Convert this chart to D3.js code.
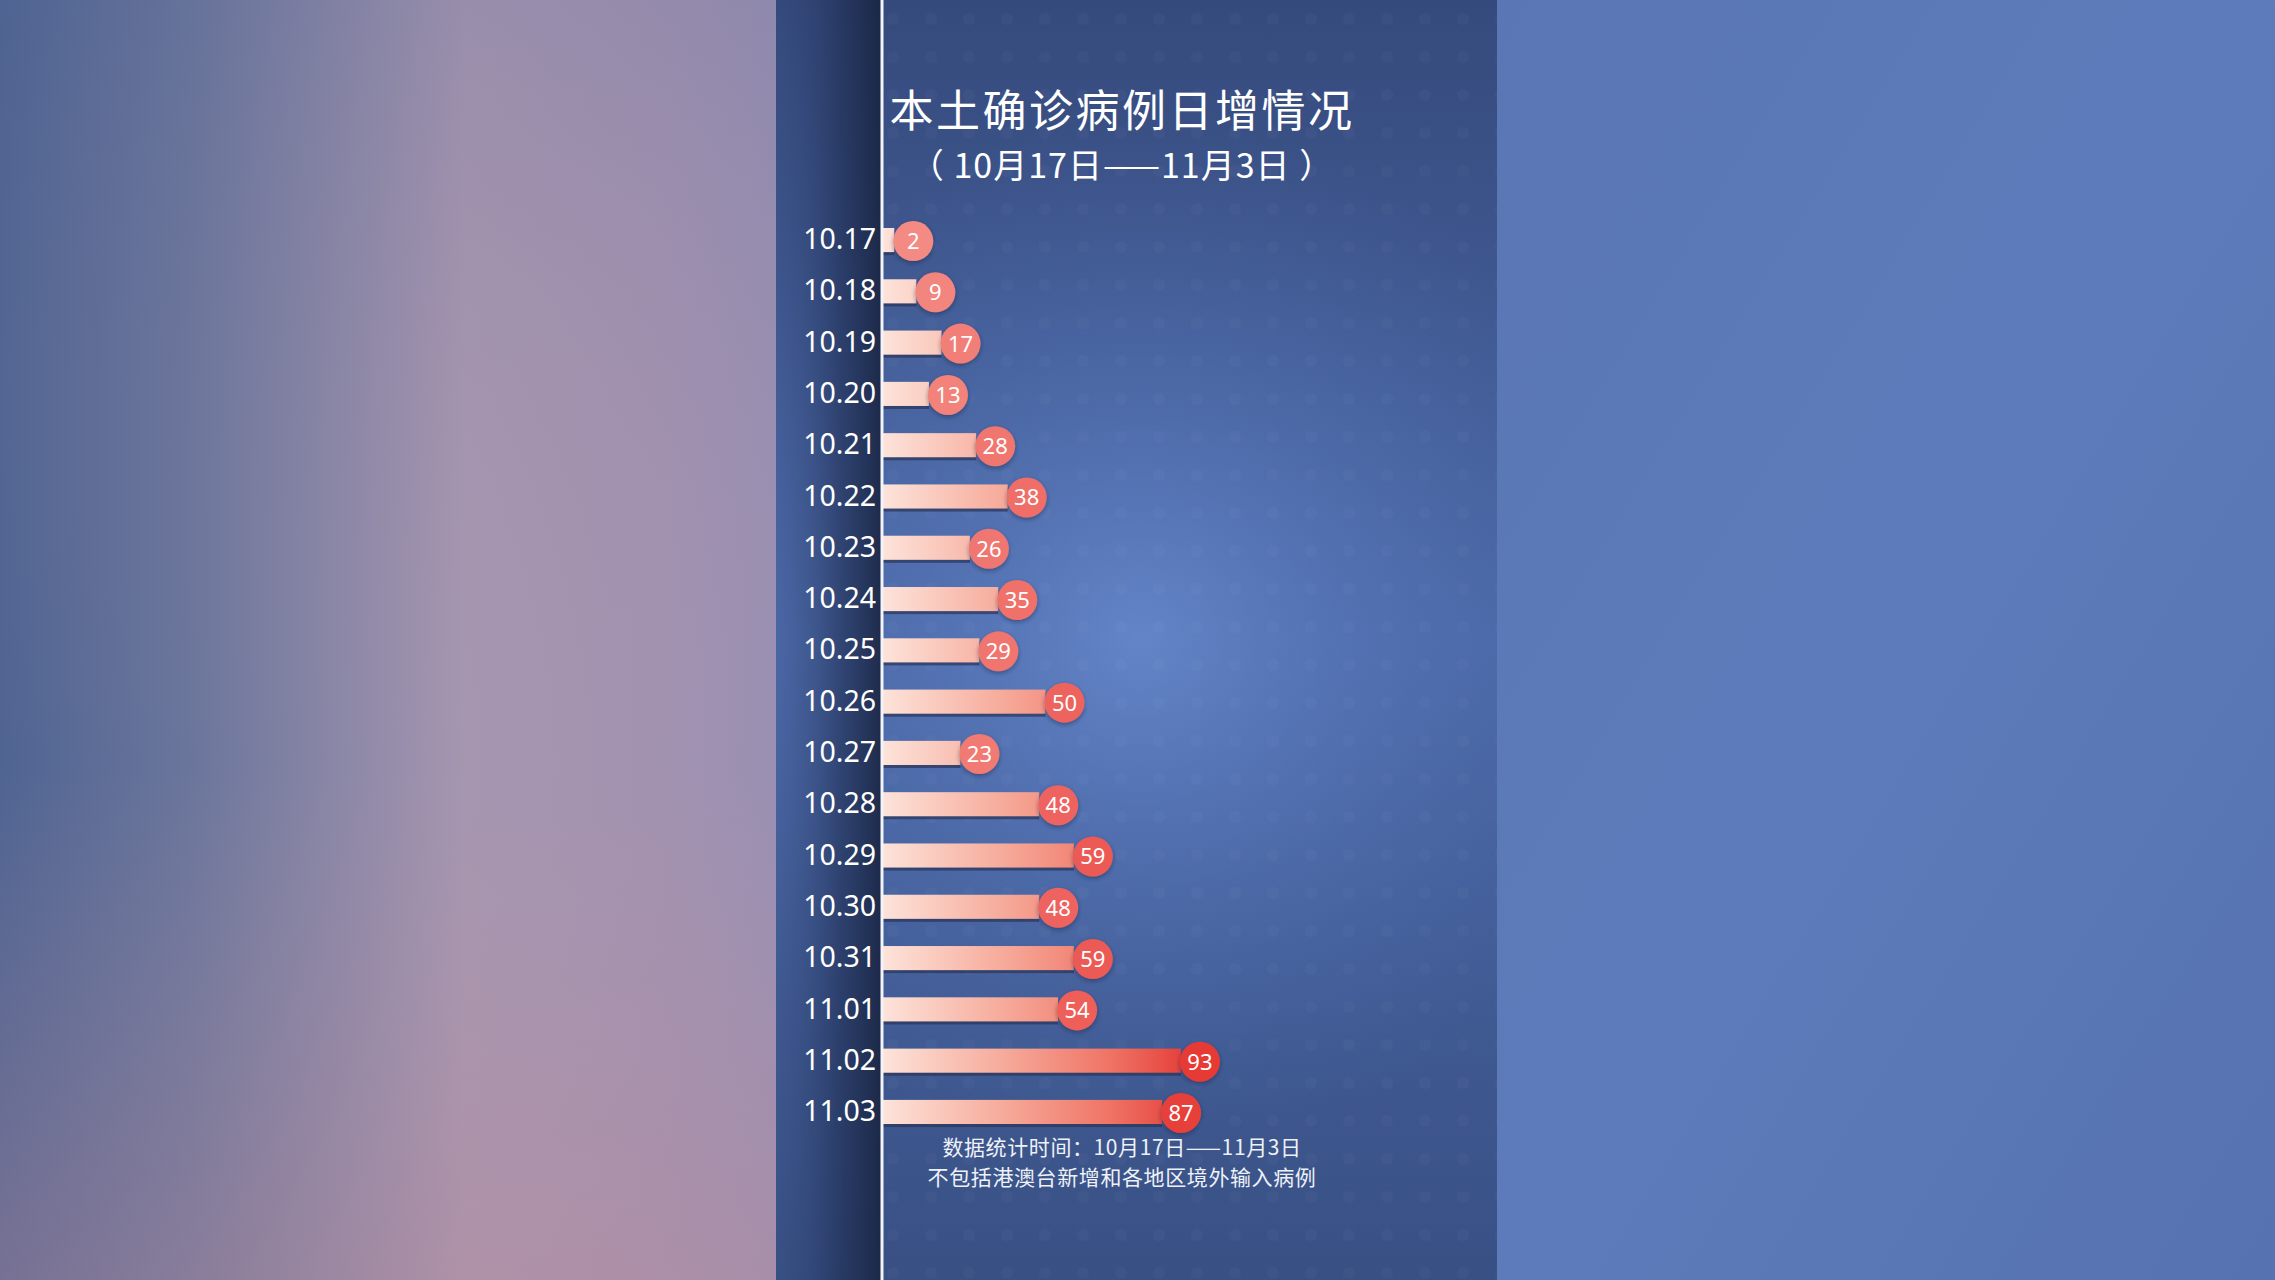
<!DOCTYPE html>
<html>
<head>
<meta charset="utf-8">
<script src="https://cdn.jsdelivr.net/npm/d3@7"></script>
<style>
  body { margin: 0; background: #5a78b6; overflow: hidden; }
  svg { display: block; }
</style>
</head>
<body>
<div id="chart"></div>
<script>
const width = 2275;
const height = 1280;

// data
const dates = ["10.17", "10.18", "10.19", "10.20", "10.21", "10.22", "10.23", "10.24", "10.25",
  "10.26", "10.27", "10.28", "10.29", "10.30", "10.31", "11.01", "11.02", "11.03"];
const cases = [2, 9, 17, 13, 28, 38, 26, 35, 29, 50, 23, 48, 59, 48, 59, 54, 93, 87];
const titleText = "本土确诊病例日增情况";
const subtitleText = "（ 10月17日——11月3日 ）";
const noteLines = ["数据统计时间：10月17日——11月3日", "不包括港澳台新增和各地区境外输入病例"];

const data = dates.map((d, i) => ({ date: d, value: cases[i] }));

const panelLeft = 776;
const panelRight = 1497;
const axisX = 883;
const centerX = 1122;

const svg = d3
  .select("#chart")
  .append("svg")
  .attr("width", width)
  .attr("height", height);

const defs = svg.append("defs");

// outer left blurred background
const leftGrad = defs.append("linearGradient").attr("id", "leftBg")
  .attr("x1", 0).attr("x2", 1).attr("y1", 0).attr("y2", 0);
leftGrad.append("stop").attr("offset", 0).attr("stop-color", "#4f6492");
leftGrad.append("stop").attr("offset", 0.25).attr("stop-color", "#6b769c");
leftGrad.append("stop").attr("offset", 0.6).attr("stop-color", "#a696b0");
leftGrad.append("stop").attr("offset", 0.85).attr("stop-color", "#a292b0");
leftGrad.append("stop").attr("offset", 1).attr("stop-color", "#9a90b2");

const leftShade = defs.append("linearGradient").attr("id", "leftShade")
  .attr("x1", 0).attr("x2", 0).attr("y1", 0).attr("y2", 1);
leftShade.append("stop").attr("offset", 0).attr("stop-color", "#4a5f90").attr("stop-opacity", 0.15);
leftShade.append("stop").attr("offset", 0.6).attr("stop-color", "#c090a0").attr("stop-opacity", 0);
leftShade.append("stop").attr("offset", 1).attr("stop-color", "#c08a98").attr("stop-opacity", 0.35);

// right outer
const rightGrad = defs.append("linearGradient").attr("id", "rightBg")
  .attr("x1", 0).attr("x2", 1).attr("y1", 0).attr("y2", 1);
rightGrad.append("stop").attr("offset", 0).attr("stop-color", "#5a76b4");
rightGrad.append("stop").attr("offset", 0.5).attr("stop-color", "#5d7bba");
rightGrad.append("stop").attr("offset", 1).attr("stop-color", "#5672b0");

// central panel
const panelGrad = defs.append("linearGradient").attr("id", "panelBg")
  .attr("x1", 0).attr("x2", 0).attr("y1", 0).attr("y2", 1);
panelGrad.append("stop").attr("offset", 0).attr("stop-color", "#354a7c");
panelGrad.append("stop").attr("offset", 0.5).attr("stop-color", "#4a67a6");
panelGrad.append("stop").attr("offset", 1).attr("stop-color", "#385084");

const panelGlow = defs.append("radialGradient").attr("id", "panelGlow")
  .attr("gradientUnits", "userSpaceOnUse")
  .attr("cx", 1140).attr("cy", 640).attr("r", 520);
panelGlow.append("stop").attr("offset", 0).attr("stop-color", "#6688cc").attr("stop-opacity", 0.9);
panelGlow.append("stop").attr("offset", 1).attr("stop-color", "#4a67a6").attr("stop-opacity", 0);

const stripGrad = defs.append("linearGradient").attr("id", "stripBg")
  .attr("x1", 0).attr("x2", 1).attr("y1", 0).attr("y2", 0);
stripGrad.append("stop").attr("offset", 0).attr("stop-color", "#33497c").attr("stop-opacity", 0.1);
stripGrad.append("stop").attr("offset", 0.6).attr("stop-color", "#1e2c50").attr("stop-opacity", 0.6);
stripGrad.append("stop").attr("offset", 1).attr("stop-color", "#17223e").attr("stop-opacity", 0.9);

// bar gradient across the whole value range
const barGrad = defs.append("linearGradient").attr("id", "barFill")
  .attr("gradientUnits", "userSpaceOnUse")
  .attr("x1", axisX).attr("x2", 1185).attr("y1", 0).attr("y2", 0);
barGrad.append("stop").attr("offset", 0).attr("stop-color", "#fde3da");
barGrad.append("stop").attr("offset", 0.4).attr("stop-color", "#f6aa9a");
barGrad.append("stop").attr("offset", 0.75).attr("stop-color", "#ef7466");
barGrad.append("stop").attr("offset", 1).attr("stop-color", "#e5403a");

const shadow = defs.append("filter").attr("id", "dropShadow")
  .attr("x", "-30%").attr("y", "-30%").attr("width", "160%").attr("height", "160%");
shadow.append("feDropShadow").attr("dx", 0).attr("dy", 2).attr("stdDeviation", 2)
  .attr("flood-color", "#1a2540").attr("flood-opacity", 0.45);

// faint dot texture of the panel
const dots = defs.append("pattern").attr("id", "dots")
  .attr("patternUnits", "userSpaceOnUse")
  .attr("width", 38).attr("height", 38);
dots.append("circle").attr("cx", 19).attr("cy", 19).attr("r", 6)
  .attr("fill", "#ffffff").attr("opacity", 0.025);

// backgrounds
svg.append("rect").attr("x", 0).attr("y", 0).attr("width", panelLeft).attr("height", height)
  .attr("fill", "url(#leftBg)");
svg.append("rect").attr("x", 0).attr("y", 0).attr("width", panelLeft).attr("height", height)
  .attr("fill", "url(#leftShade)");
svg.append("rect").attr("x", panelRight).attr("y", 0).attr("width", width - panelRight).attr("height", height)
  .attr("fill", "url(#rightBg)");
svg.append("rect").attr("x", panelLeft).attr("y", 0).attr("width", panelRight - panelLeft).attr("height", height)
  .attr("fill", "url(#panelBg)");
svg.append("rect").attr("x", panelLeft).attr("y", 0).attr("width", panelRight - panelLeft).attr("height", height)
  .attr("fill", "url(#panelGlow)");
svg.append("rect").attr("x", axisX).attr("y", 0).attr("width", panelRight - axisX).attr("height", height)
  .attr("fill", "url(#dots)");
svg.append("rect").attr("x", panelLeft).attr("y", 0).attr("width", axisX - panelLeft).attr("height", height)
  .attr("fill", "url(#stripBg)");

// scales
const yScale = d3
  .scaleBand()
  .domain(dates)
  .range([214.4, 1137.6])
  .paddingInner(0.53)
  .paddingOuter(0.265);

const xScale = d3
  .scaleLinear()
  .domain([0, 100])
  .range([axisX + 5, axisX + 5 + 315]);

const circleColor = d3
  .scaleLinear()
  .domain([0, 40, 93])
  .range(["#f38c84", "#ef6c66", "#e63a36"]);

// bars
const bars = svg.append("g").attr("class", "bars");

bars.selectAll("rect.shade")
  .data(data)
  .enter()
  .append("rect")
  .attr("class", "shade")
  .attr("x", axisX)
  .attr("y", (d) => yScale(d.date) + 3)
  .attr("width", (d) => xScale(d.value) - axisX)
  .attr("height", yScale.bandwidth())
  .attr("fill", "#2a3558")
  .attr("opacity", 0.7);

bars.selectAll("rect.bar")
  .data(data)
  .enter()
  .append("rect")
  .attr("class", "bar")
  .attr("x", axisX)
  .attr("y", (d) => yScale(d.date))
  .attr("width", (d) => xScale(d.value) - axisX)
  .attr("height", yScale.bandwidth())
  .attr("fill", "url(#barFill)");

// value bubbles
const bubbles = svg.append("g").attr("class", "bubbles");

bubbles.selectAll("circle")
  .data(data)
  .enter()
  .append("circle")
  .attr("cx", (d) => xScale(d.value) + 19)
  .attr("cy", (d) => yScale(d.date) + yScale.bandwidth() / 2 + 1)
  .attr("r", 20)
  .attr("fill", (d) => circleColor(d.value))
  .attr("filter", "url(#dropShadow)");

bubbles.selectAll("text")
  .data(data)
  .enter()
  .append("text")
  .attr("x", (d) => xScale(d.value) + 19)
  .attr("y", (d) => yScale(d.date) + yScale.bandwidth() / 2 + 1)
  .attr("dy", "0.36em")
  .attr("text-anchor", "middle")
  .style("font-family", "'Noto Sans', sans-serif")
  .style("font-size", "22px")
  .style("fill", "#ffffff")
  .text((d) => d.value);

// date axis
const yAxis = d3.axisLeft(yScale).tickSize(0).tickPadding(0);

const axisG = svg
  .append("g")
  .attr("id", "y-axis")
  .attr("transform", "translate(876,0)")
  .call(yAxis);

axisG.select(".domain").remove();
axisG.selectAll("text")
  .style("font-family", "'Noto Sans', sans-serif")
  .style("font-size", "28.5px")
  .style("fill", "#ffffff");

// white vertical axis line
svg.append("line")
  .attr("x1", axisX - 1).attr("x2", axisX - 1)
  .attr("y1", 0).attr("y2", height)
  .attr("stroke", "#f2f4fa")
  .attr("stroke-width", 3);

// titles
svg.append("text")
  .attr("x", centerX)
  .attr("y", 108)
  .attr("dominant-baseline", "central")
  .attr("text-anchor", "middle")
  .style("font-family", "'Noto Sans CJK SC', sans-serif")
  .style("font-size", "44px")
  .style("font-weight", 400)
  .style("letter-spacing", "2.5px")
  .style("fill", "#ffffff")
  .text(titleText);

svg.append("text")
  .attr("x", centerX)
  .attr("y", 163)
  .attr("dominant-baseline", "central")
  .attr("text-anchor", "middle")
  .style("font-family", "'Noto Sans CJK SC', sans-serif")
  .style("font-size", "34px")
  .style("font-weight", 400)
  .style("letter-spacing", "1px")
  .style("fill", "#ffffff")
  .text(subtitleText);

svg.selectAll("text.note")
  .data(noteLines)
  .enter()
  .append("text")
  .attr("class", "note")
  .attr("x", centerX)
  .attr("y", (d, i) => 1146 + i * 30)
  .attr("dominant-baseline", "central")
  .attr("text-anchor", "middle")
  .style("font-family", "'Noto Sans CJK SC', sans-serif")
  .style("font-size", "21px")
  .style("letter-spacing", "0.6px")
  .style("fill", "#eef1f8")
  .text((d) => d);
</script>
</body>
</html>
